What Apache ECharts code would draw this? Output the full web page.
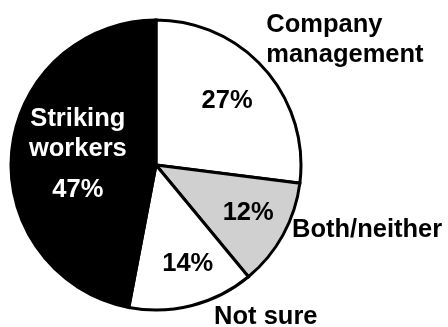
<!DOCTYPE html>
<html>
<head>
<meta charset="utf-8">
<script src="https://cdn.jsdelivr.net/npm/echarts@6/dist/echarts.min.js"></script>
<style>
  html, body { margin: 0; padding: 0; background: #ffffff; }
  #chart { width: 448px; height: 327px; }
</style>
</head>
<body>
<div id="chart"></div>
<script>
// Who is to blame for the strike? Share of responses, clockwise from 12 o'clock.
const categories = ['Company\nmanagement', 'Both/neither', 'Not sure', 'Striking\nworkers'];
const shares = [27, 12, 14, 47];

// Slice fills and label colours
const sliceColors = ['#ffffff', '#d0d0d0', '#ffffff', '#000000'];
const innerTextColors = ['#000000', '#000000', '#000000', '#ffffff'];

// Label nudges [dx, dy] relative to the anchor ECharts computes for each slice
const innerNudge = [[14.5, -14], [26, 12], [13, 26], [-3, 2]];
const outerNudge = [[1.5, -29], [9, -5], [22, 11.5], [0, 0]];

const FONT = '"Liberation Sans", Arial, Helvetica, sans-serif';
const CENTER = [156, 165];
const RADIUS = 145;

const chart = echarts.init(document.getElementById('chart'), null, { renderer: 'canvas' });

const baseText = {
  fontFamily: FONT,
  fontWeight: 'bold',
  fontSize: 25.5,
  lineHeight: 30
};

chart.setOption({
  backgroundColor: '#ffffff',
  animation: false,
  series: [
    {
      // visible slices with the percentages inside
      type: 'pie',
      center: CENTER,
      radius: [0, RADIUS],
      startAngle: 90,
      clockwise: true,
      silent: true,
      avoidLabelOverlap: false,
      emphasis: { disabled: true },
      itemStyle: { borderColor: '#000000', borderWidth: 3, borderJoin: 'miter' },
      labelLine: { show: false },
      label: Object.assign({}, baseText, {
        position: 'inside',
        align: 'center',
        formatter: function (p) {
          if (p.dataIndex === 3) {
            const parts = categories[3].split('\n');
            return '{n|' + parts[0] + '}\n{n|' + parts[1] + '}\n{p|' + shares[3] + '%}';
          }
          return shares[p.dataIndex] + '%';
        },
        rich: {
          n: Object.assign({}, baseText, { color: '#ffffff' }),
          p: Object.assign({}, baseText, { color: '#ffffff', lineHeight: 52 })
        }
      }),
      labelLayout: function (p) {
        return { dx: innerNudge[p.dataIndex][0], dy: innerNudge[p.dataIndex][1] };
      },
      data: shares.map(function (v, i) {
        return {
          value: v,
          name: categories[i],
          itemStyle: { color: sliceColors[i] },
          label: { color: innerTextColors[i] }
        };
      })
    },
    {
      // transparent twin carrying the category names outside the pie
      type: 'pie',
      center: CENTER,
      radius: [0, RADIUS],
      startAngle: 90,
      clockwise: true,
      silent: true,
      avoidLabelOverlap: false,
      emphasis: { disabled: true },
      itemStyle: { color: 'rgba(0,0,0,0)', borderWidth: 0 },
      labelLine: { show: false, length: 0, length2: 0 },
      label: Object.assign({}, baseText, {
        position: 'outside',
        distanceToLabelLine: 0,
        color: '#000000',
        formatter: function (p) { return categories[p.dataIndex]; }
      }),
      labelLayout: function (p) {
        return { dx: outerNudge[p.dataIndex][0], dy: outerNudge[p.dataIndex][1] };
      },
      data: shares.map(function (v, i) {
        return {
          value: v,
          name: categories[i],
          label: { show: i !== 3 }
        };
      })
    }
  ]
});
</script>
</body>
</html>
